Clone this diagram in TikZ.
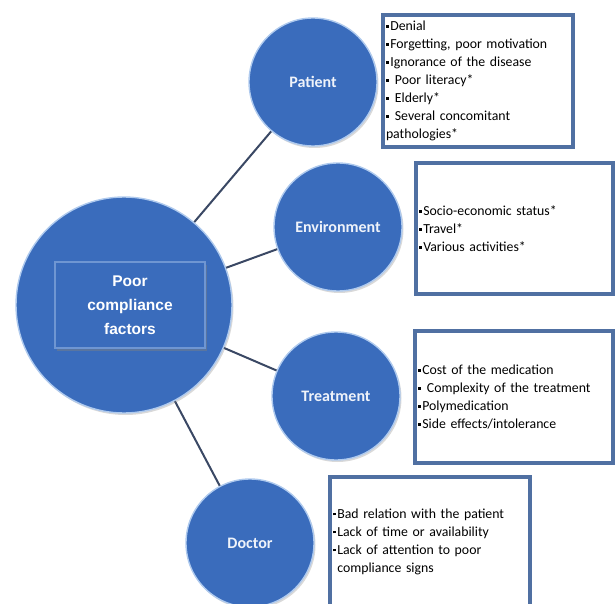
\documentclass[tikz,border=0pt]{standalone}
\usepackage{fontspec}
\setmainfont{Carlito}
\newfontfamily\arialfont{Liberation Sans}
\usetikzlibrary{shapes,backgrounds,shadows}

\definecolor{ballblue}{RGB}{58,108,188}
\definecolor{rimblue}{RGB}{175,202,238}
\definecolor{framecol}{RGB}{80,112,162}
\definecolor{linkcol}{RGB}{58,72,100}
\newcommand{\bul}{\rule[0.2em]{2.8pt}{2.8pt}\hspace{1.5pt}}

\begin{document}
\begin{tikzpicture}[x=1pt,y=-1pt]
		\tikzstyle{factor ball} = [circle, fill=ballblue, draw=rimblue, line width=1.4pt, minimum size=128pt, inner sep=0pt, text=white!92!ballblue, font=\fontsize{16}{18}\selectfont\bfseries, drop shadow={opacity=0.3, shadow xshift=1.5pt, shadow yshift=-2pt}]
		\tikzstyle{factor list} = [rectangle, draw=framecol, fill=white, line width=3.2pt, inner sep=3pt, align=left, font=\fontsize{13.8}{18}\selectfont, drop shadow={opacity=0.2, shadow xshift=1pt, shadow yshift=-1.5pt}]
		\tikzstyle{link} = [draw=linkcol, line width=2pt]

		\useasboundingbox (0,0) rectangle (616,604);

		% centre
		\node[factor ball, minimum size=216pt] (poor) at (124,305) {};
		\node[rectangle, fill=ballblue, draw=rimblue!45!ballblue, line width=1.2pt, minimum width=150pt, minimum height=86pt, align=center, text=white, font=\arialfont\bfseries\fontsize{15.5}{24}\selectfont, drop shadow={opacity=0.45, shadow xshift=2pt, shadow yshift=-3pt}] (core) at (130,305) {Poor\\compliance\\factors};

		% factors
		\node[factor ball] (patient) at (313,82) {Patient};
		\node[factor ball] (environment) at (338,227) {Environment};
		\node[factor ball] (treatment) at (336,396) {Treatment};
		\node[factor ball] (doctor) at (250,543) {Doctor};

		% lists
		\node[factor list, text width=184pt, minimum height=132pt] (patientlist) at (478,81)
			{\bul Denial\\ \bul Forgetting, poor motivation\\ \bul Ignorance of the disease\\ \bul\ Poor literacy*\\ \bul\ Elderly*\\ \bul\ Several concomitant\\ pathologies*};
		\node[factor list, text width=191pt, minimum height=131pt] (environmentlist) at (514.5,228.5)
			{\bul Socio-economic status*\\ \bul Travel*\\ \bul Various activities*};
		\node[factor list, text width=192pt, minimum height=132pt] (treatmentlist) at (514,397)
			{\bul Cost of the medication\\ \bul\ Complexity of the treatment\\ \bul Polymedication\\ \bul Side effects/intolerance};
		\node[factor list, text width=194pt, minimum height=129pt] (doctorlist) at (430,541.5)
			{\bul Bad relation with the patient\\ \bul Lack of time or availability\\ \bul Lack of attention to poor\\ \hspace*{4.3pt}compliance signs};

		\begin{pgfonlayer}{background}
			\foreach \f in {patient, environment, treatment, doctor}
			{
				\draw[link] (poor.center) -- (\f.center);
			}
		\end{pgfonlayer}
\end{tikzpicture}
\end{document}
